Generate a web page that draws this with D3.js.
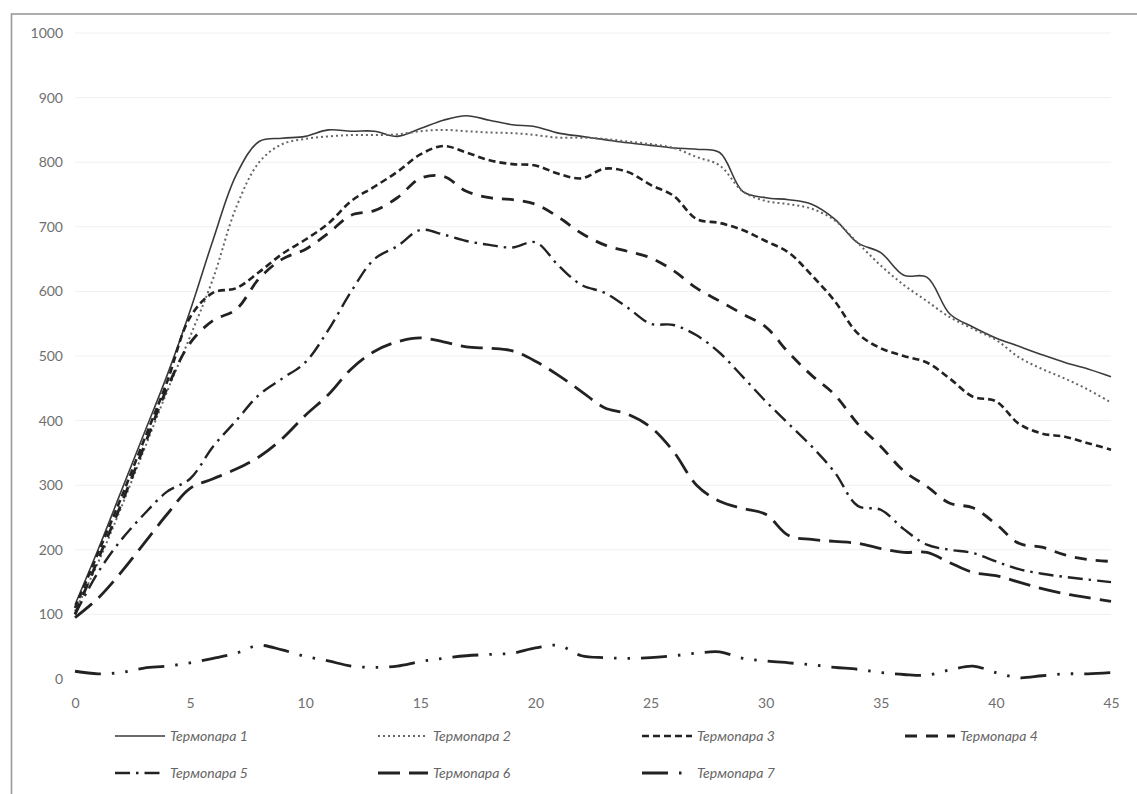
<!DOCTYPE html>
<html>
<head>
<meta charset="utf-8">
<script src="https://cdn.jsdelivr.net/npm/d3@7"></script>
<style>
  html, body { margin: 0; padding: 0; background: #fff; }
  svg { display: block; }
  .tick text { font-family: Lato, "Open Sans", sans-serif; font-size: 14px; fill: #6f6f6f; }
  .legend text { font-family: Lato, "Open Sans", sans-serif; font-size: 14px; font-style: italic; fill: #666; }
</style>
</head>
<body>
<svg id="chart" width="1137" height="794"></svg>
<script>
// Time, min
const minutes = [0,1,2,3,4,5,6,7,8,9,10,11,12,13,14,15,16,17,18,19,20,21,22,23,24,25,26,27,28,29,30,31,32,33,34,35,36,37,38,39,40,41,42,43,44,45];

// Temperature readings, °C
const tc1 = [115,200,290,380,470,570,680,780,832,837,840,850,848,848,840,852,865,872,865,858,855,845,840,835,830,826,822,820,815,755,745,742,735,712,675,660,625,622,565,545,528,515,502,490,480,468];
const tc2 = [105,180,265,355,445,530,620,730,800,828,836,840,842,842,843,848,850,848,846,845,842,838,838,836,832,828,822,808,795,755,740,735,728,710,675,640,610,585,560,542,525,498,480,465,448,428];
const tc3 = [110,195,280,370,460,560,598,605,630,658,680,705,740,762,785,812,825,815,803,797,795,782,775,790,785,765,748,712,706,695,678,660,625,585,535,512,500,490,465,437,430,395,380,375,365,355];
const tc4 = [100,185,270,360,450,520,555,572,620,650,665,690,718,725,745,775,778,755,745,742,735,715,690,672,662,652,632,605,585,565,545,505,470,440,395,360,322,298,272,265,240,210,204,192,185,182];
const tc5 = [100,165,215,255,290,310,360,400,440,465,490,540,600,650,670,695,688,678,672,668,676,640,610,598,575,550,548,532,505,468,430,395,360,320,268,262,232,208,200,195,182,170,163,158,154,150];
const tc6 = [95,125,165,210,255,295,310,325,344,372,408,440,480,507,522,528,522,514,512,508,492,470,445,420,410,390,352,300,275,264,255,222,216,213,210,202,196,196,180,165,160,150,140,132,126,120];
const tc7 = [12,8,10,17,20,25,32,40,52,45,35,28,20,18,20,27,32,36,38,40,48,52,36,33,32,33,36,40,42,32,28,25,22,18,15,10,7,6,14,20,10,2,5,8,8,10];

const seriesNames = ["Термопара 1","Термопара 2","Термопара 3","Термопара 4","Термопара 5","Термопара 6","Термопара 7"];
const seriesValues = [tc1, tc2, tc3, tc4, tc5, tc6, tc7];

const xTicks = [0,5,10,15,20,25,30,35,40,45];
const yTicks = [0,100,200,300,400,500,600,700,800,900,1000];

// Line appearance for each thermocouple
const styles = [
  { color: "#3a3a3a", width: 1.6, dash: null },
  { color: "#666",    width: 2.0, dash: "2,3" },
  { color: "#222",    width: 2.6, dash: "7,4" },
  { color: "#222",    width: 2.8, dash: "12,9" },
  { color: "#222",    width: 2.4, dash: "15,6,2.5,6" },
  { color: "#222",    width: 2.8, dash: "22,9" },
  { color: "#222",    width: 2.8, dash: "26,11,2.5,11,2.5,11" }
];

const svg = d3.select("#chart");

// outer frame
svg.append("rect")
  .attr("x", 11.5).attr("y", 14)
  .attr("width", 1160).attr("height", 800)
  .attr("fill", "none").attr("stroke", "#9a9a9a").attr("stroke-width", 1.6);

const x = d3.scaleLinear().domain([0, 45]).range([75, 1111]);
const y = d3.scaleLinear().domain([0, 1000]).range([679, 33]);

// faint horizontal gridlines
svg.append("g")
  .selectAll("line")
  .data(yTicks.filter(v => v > 0))
  .join("line")
  .attr("x1", x(0)).attr("x2", x(45))
  .attr("y1", d => y(d)).attr("y2", d => y(d))
  .attr("stroke", "#f0f0f0").attr("stroke-width", 1);

// axes (labels only)
const gx = svg.append("g")
  .attr("transform", `translate(0,${y(0)})`)
  .call(d3.axisBottom(x).tickValues(xTicks).tickSize(0).tickPadding(19).tickFormat(d3.format("d")));
gx.select(".domain").remove();

const gy = svg.append("g")
  .attr("transform", `translate(${x(0)},0)`)
  .call(d3.axisLeft(y).tickValues(yTicks).tickSize(0).tickPadding(12).tickFormat(d3.format("d")));
gy.select(".domain").remove();

// data lines
const line = d3.line()
  .x((d, i) => x(minutes[i]))
  .y(d => y(d))
  .curve(d3.curveCatmullRom.alpha(0.5));

svg.append("g")
  .selectAll("path")
  .data(seriesValues)
  .join("path")
  .attr("d", d => line(d))
  .attr("fill", "none")
  .attr("stroke", (d, i) => styles[i].color)
  .attr("stroke-width", (d, i) => styles[i].width)
  .attr("stroke-dasharray", (d, i) => styles[i].dash)
  .attr("stroke-linejoin", "round");

// legend: 4 columns, 2 rows
const colX = [115, 378, 642, 905];
const rowY = [736, 773];
const legend = svg.append("g").attr("class", "legend")
  .selectAll("g")
  .data(seriesNames)
  .join("g")
  .attr("transform", (d, i) => `translate(${colX[i % 4]},${rowY[Math.floor(i / 4)]})`);

legend.append("line")
  .attr("x1", 0).attr("x2", 50).attr("y1", 0).attr("y2", 0)
  .attr("stroke", (d, i) => styles[i].color)
  .attr("stroke-width", (d, i) => styles[i].width)
  .attr("stroke-dasharray", (d, i) => styles[i].dash);

legend.append("text")
  .attr("x", 55).attr("y", 0).attr("dy", "0.35em")
  .text(d => d);
</script>
</body>
</html>
